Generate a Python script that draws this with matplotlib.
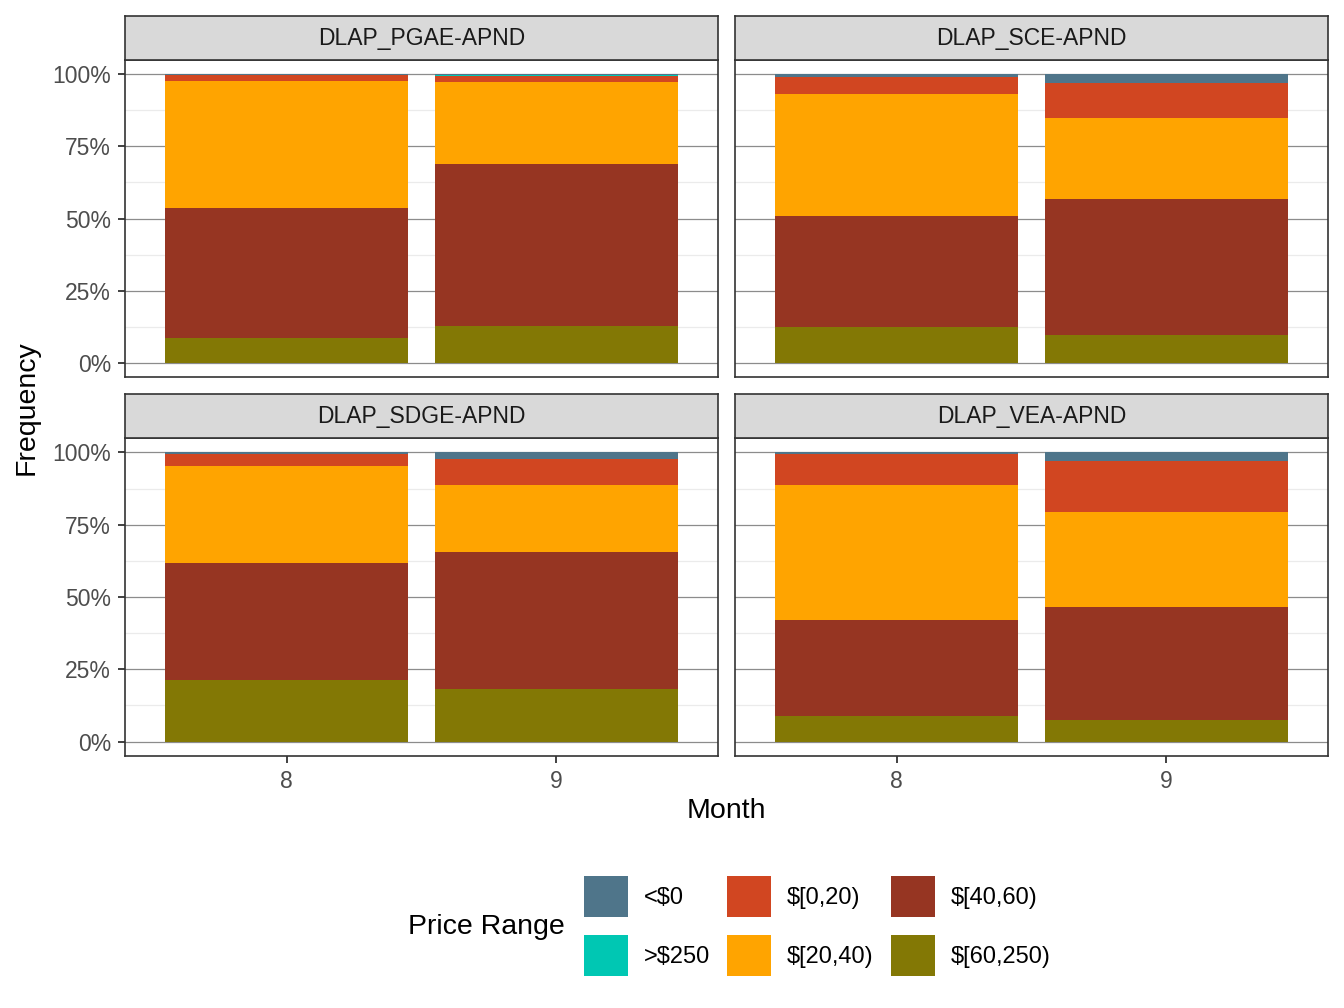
import matplotlib
matplotlib.use("Agg")
import matplotlib.pyplot as plt
from matplotlib.patches import Patch
from matplotlib.ticker import FuncFormatter
import numpy as np

plt.rcParams["font.family"] = ["Liberation Sans", "DejaVu Sans"]

# price ranges in stacking order (top of the bar first)
ranges = ["<$0", ">$250", "$[0,20)", "$[20,40)", "$[40,60)", "$[60,250)"]
colors = ["#4F758A", "#00C7B3", "#D14621", "#FFA400", "#963522", "#837805"]

months = [8, 9]
panels = ["DLAP_PGAE-APND", "DLAP_SCE-APND", "DLAP_SDGE-APND", "DLAP_VEA-APND"]

# share of hours per price range, one list per month [8, 9]
neg_0 = {"DLAP_PGAE-APND": [0.3, 0.3], "DLAP_SCE-APND": [0.9, 3.0],
         "DLAP_SDGE-APND": [0.7, 2.3], "DLAP_VEA-APND": [0.7, 2.8]}
over_250 = {"DLAP_PGAE-APND": [0.0, 0.2], "DLAP_SCE-APND": [0.0, 0.0],
            "DLAP_SDGE-APND": [0.0, 0.0], "DLAP_VEA-APND": [0.0, 0.0]}
r_0_20 = {"DLAP_PGAE-APND": [2.0, 2.15], "DLAP_SCE-APND": [5.9, 12.1],
          "DLAP_SDGE-APND": [4.1, 8.8], "DLAP_VEA-APND": [10.7, 17.9]}
r_20_40 = {"DLAP_PGAE-APND": [43.9, 28.35], "DLAP_SCE-APND": [42.2, 28.3],
           "DLAP_SDGE-APND": [33.6, 23.5], "DLAP_VEA-APND": [46.7, 32.9]}
r_40_60 = {"DLAP_PGAE-APND": [45.3, 56.3], "DLAP_SCE-APND": [38.7, 47.0],
           "DLAP_SDGE-APND": [40.4, 47.3], "DLAP_VEA-APND": [33.1, 39.0]}
r_60_250 = {"DLAP_PGAE-APND": [8.5, 12.7], "DLAP_SCE-APND": [12.3, 9.6],
            "DLAP_SDGE-APND": [21.2, 18.1], "DLAP_VEA-APND": [8.8, 7.4]}
series = [neg_0, over_250, r_0_20, r_20_40, r_40_60, r_60_250]

W, H = 1344, 1008
fig = plt.figure(figsize=(W / 100, H / 100), dpi=100)


def px_axes(x0, y0, x1, y1):
    return fig.add_axes([x0 / W, 1 - y1 / H, (x1 - x0) / W, (y1 - y0) / H])


boxes = [(125, 60, 718, 377), (735, 60, 1328, 377),
         (125, 438, 718, 756), (735, 438, 1328, 756)]
strip_h = 44

for i, (name, (x0, y0, x1, y1)) in enumerate(zip(panels, boxes)):
    ax = px_axes(x0, y0, x1, y1)
    # stack from the bottom: last range first
    bottom = np.zeros(len(months))
    for vals, col in zip(series[::-1], colors[::-1]):
        v = np.array(vals[name]) / 100
        ax.bar(months, v, width=0.9, bottom=bottom, color=col, zorder=2)
        bottom += v
    ax.set_xlim(7.4, 9.6)
    ax.set_ylim(-0.05, 1.05)
    ax.set_yticks([0, 0.25, 0.5, 0.75, 1.0])
    ax.set_yticks([0.125, 0.375, 0.625, 0.875], minor=True)
    ax.set_xticks(months)
    ax.grid(axis="y", which="major", color="#8C8C8C", linewidth=0.9, zorder=0)
    ax.grid(axis="y", which="minor", color="#EBEBEB", linewidth=0.9, zorder=0)
    ax.tick_params(which="minor", length=0)
    ax.tick_params(which="major", length=5, width=1.3, color="#333333",
                   labelcolor="#4D4D4D", labelsize=16.5, pad=5)
    ax.yaxis.set_major_formatter(FuncFormatter(lambda v, p: f"{v * 100:.0f}%"))
    if i % 2 == 1:
        ax.tick_params(axis="y", left=False, labelleft=False)
    if i < 2:
        ax.tick_params(axis="x", bottom=False, labelbottom=False)
    for s in ax.spines.values():
        s.set_color("#333333")
        s.set_linewidth(1.2)

    strip = px_axes(x0, y0 - strip_h, x1, y0)
    strip.set_facecolor("#D9D9D9")
    strip.set_xticks([])
    strip.set_yticks([])
    for s in strip.spines.values():
        s.set_color("#333333")
        s.set_linewidth(1.2)
    strip.text(0.5, 0.5, name, ha="center", va="center", fontsize=16.5,
               color="#1A1A1A", transform=strip.transAxes)

fig.text(726 / W, 1 - 811 / H, "Month", ha="center", va="center", fontsize=20.5)
fig.text(27 / W, 1 - 408 / H, "Frequency", ha="center", va="center",
         fontsize=20.5, rotation=90)

fig.text(408 / W, 1 - 927 / H, "Price Range", ha="left", va="center",
         fontsize=20.5)
handles = [Patch(facecolor=c, edgecolor="none") for c in colors]
fig.legend(handles, ranges, ncol=3, loc="center left",
           bbox_to_anchor=(584 / W, 1 - 926 / H), frameon=False, fontsize=17,
           handlelength=1.86, handleheight=2.27, handletextpad=0.68,
           columnspacing=0.72, labelspacing=0.8, borderaxespad=0,
           borderpad=0)

fig.savefig("out.png", dpi=100)
